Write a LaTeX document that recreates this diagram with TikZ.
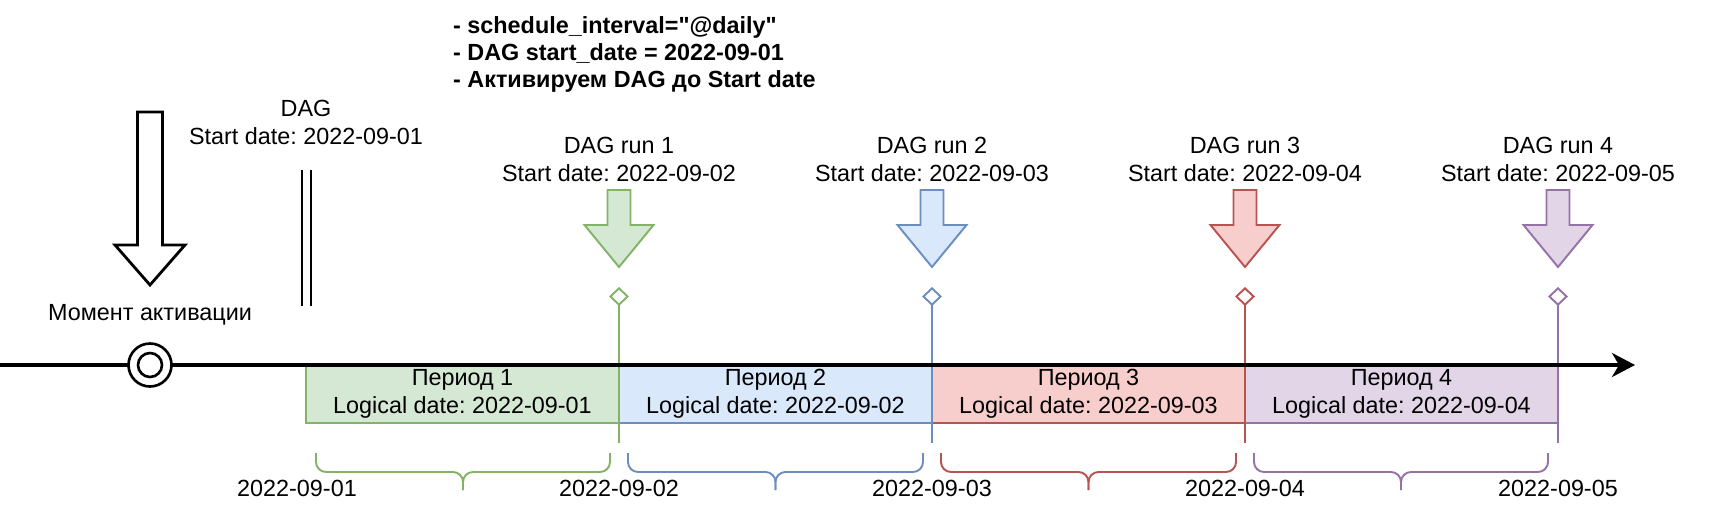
\documentclass[tikz,border=0pt]{standalone}
\usepackage{fontspec}
\setmainfont{Liberation Sans}
\usepackage{tikz}
\usetikzlibrary{arrows.meta, positioning, shapes.geometric}
\usepackage{xcolor}

\definecolor{grfill}{HTML}{D5E8D4}
\definecolor{grline}{HTML}{82B366}
\definecolor{blfill}{HTML}{DAE8FC}
\definecolor{blline}{HTML}{6C8EBF}
\definecolor{rdfill}{HTML}{F8CECC}
\definecolor{rdline}{HTML}{B85450}
\definecolor{pufill}{HTML}{E1D5E7}
\definecolor{puline}{HTML}{9673A6}

\tikzset{
    period/.style={draw, line width=1.1pt, minimum width=6.26cm, minimum height=1.16cm, inner sep=0pt, outer sep=0pt, anchor=north west, align=center},
    curly/.style={line width=1.1pt, rounded corners=0.2cm},
    runline/.style={line width=1.1pt, {Diamond[open, length=3.8mm, width=4mm]}-},
    blockarrow/.style={line width=1.1pt, line join=miter},
}

\begin{document}
\frenchspacing
\begin{tikzpicture}[font=\fontsize{13.3}{15.9}\selectfont]

            \useasboundingbox (0,-3.26) rectangle (34.64,7.30);

            % Periods on the time axis
            \node[period, fill=grfill, draw=grline] (p1) at (6.12,0) {Период 1\\ Logical date: 2022-09-01};
            \node[period, fill=blfill, draw=blline] (p2) at (p1.north east) {Период 2\\ Logical date: 2022-09-02};
            \node[period, fill=rdfill, draw=rdline] (p3) at (p2.north east) {Период 3\\ Logical date: 2022-09-03};
            \node[period, fill=pufill, draw=puline] (p4) at (p3.north east) {Период 4\\ Logical date: 2022-09-04};

            % Braces under the periods
            \draw[curly, grline] (6.32,-1.76) |- (9.26,-2.14) -- (9.26,-2.50);
            \draw[curly, grline] (12.20,-1.76) |- (9.26,-2.14) -- (9.26,-2.50);
            \draw[curly, blline] (12.56,-1.76) |- (15.51,-2.14) -- (15.51,-2.50);
            \draw[curly, blline] (18.46,-1.76) |- (15.51,-2.14) -- (15.51,-2.50);
            \draw[curly, rdline] (18.82,-1.76) |- (21.77,-2.14) -- (21.77,-2.50);
            \draw[curly, rdline] (24.72,-1.76) |- (21.77,-2.14) -- (21.77,-2.50);
            \draw[curly, puline] (25.08,-1.76) |- (28.02,-2.14) -- (28.02,-2.50);
            \draw[curly, puline] (30.96,-1.76) |- (28.02,-2.14) -- (28.02,-2.50);

            % Dates
            \node (d1) at (5.94,-2.46) {2022-09-01};
            \node (d2) at (12.38,-2.46) {2022-09-02};
            \node (d3) at (18.64,-2.46) {2022-09-03};
            \node (d4) at (24.90,-2.46) {2022-09-04};
            \node (d5) at (31.16,-2.46) {2022-09-05};

            % Run markers
            \coordinate (m1top) at (12.38,1.56);
            \coordinate (m1bot) at (12.38,-1.56);
            \coordinate (m2top) at (18.64,1.56);
            \coordinate (m2bot) at (18.64,-1.56);
            \coordinate (m3top) at (24.90,1.56);
            \coordinate (m3bot) at (24.90,-1.56);
            \coordinate (m4top) at (31.16,1.56);
            \coordinate (m4bot) at (31.16,-1.56);
            \draw[runline, grline] (m1top) -- (m1bot);
            \draw[runline, blline] (m2top) -- (m2bot);
            \draw[runline, rdline] (m3top) -- (m3bot);
            \draw[runline, puline] (m4top) -- (m4bot);

            % Time axis
            \coordinate (tstart) at (0,0);
            \coordinate (tend) at (32.70,0);
            \draw[line width=2pt, -{Stealth[length=4.6mm, width=4.8mm, inset=1.4mm]}] (tstart) -- (tend);

            % Activation moment
            \node[circle, draw, fill=white, line width=1.5pt, minimum size=0.86cm, inner sep=0pt] (act) at (3,0) {};
            \node[circle, draw, line width=1.5pt, minimum size=0.48cm, inner sep=0pt] (actin) at (act) {};
            \node (acttext) at (3,1.0) {Момент активации};
            \draw[line width=1.6pt, fill=white, line join=miter] (3,1.60) -- ++(0.70,0.80) -- ++(-0.45,0) -- ++(0,2.66) -- ++(-0.50,0) -- ++(0,-2.66) -- ++(-0.45,0) -- cycle;

            % DAG start date
            \node[align=center] (dagstart) at (6.12,4.86) {DAG\\ Start date: 2022-09-01};
            \draw[line width=1.1pt] (6.04,3.90) -- (6.04,1.18);
            \draw[line width=1.1pt] (6.22,3.90) -- (6.22,1.18);

            % DAG runs
            \draw[blockarrow, draw=grline, fill=grfill] (12.38,1.96) -- ++(0.69,0.84) -- ++(-0.46,0) -- ++(0,0.70) -- ++(-0.46,0) -- ++(0,-0.70) -- ++(-0.46,0) -- cycle;
            \draw[blockarrow, draw=blline, fill=blfill] (18.64,1.96) -- ++(0.69,0.84) -- ++(-0.46,0) -- ++(0,0.70) -- ++(-0.46,0) -- ++(0,-0.70) -- ++(-0.46,0) -- cycle;
            \draw[blockarrow, draw=rdline, fill=rdfill] (24.90,1.96) -- ++(0.69,0.84) -- ++(-0.46,0) -- ++(0,0.70) -- ++(-0.46,0) -- ++(0,-0.70) -- ++(-0.46,0) -- cycle;
            \draw[blockarrow, draw=puline, fill=pufill] (31.16,1.96) -- ++(0.69,0.84) -- ++(-0.46,0) -- ++(0,0.70) -- ++(-0.46,0) -- ++(0,-0.70) -- ++(-0.46,0) -- cycle;
            \node[align=center] (run1) at (12.38,4.12) {DAG run 1\\ Start date: 2022-09-02};
            \node[align=center] (run2) at (18.64,4.12) {DAG run 2\\ Start date: 2022-09-03};
            \node[align=center] (run3) at (24.90,4.12) {DAG run 3\\ Start date: 2022-09-04};
            \node[align=center] (run4) at (31.16,4.12) {DAG run 4\\ Start date: 2022-09-05};

            % Conditions
            \node[align=left, anchor=west, font=\bfseries\fontsize{13.3}{15.6}\selectfont] (notes) at (8.94,6.21) {- schedule\_interval=\textquotedbl @daily\textquotedbl\\ - DAG start\_date = 2022-09-01\\ - Активируем DAG до Start date};

\end{tikzpicture}
\end{document}
